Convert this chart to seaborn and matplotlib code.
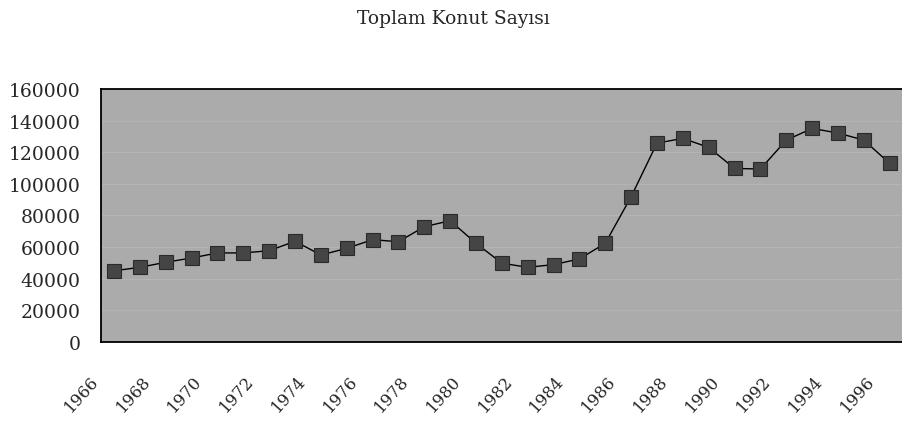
import matplotlib
matplotlib.use("Agg")
import matplotlib.pyplot as plt
import matplotlib.transforms as mtransforms
import seaborn as sns
import pandas as pd

# ── Data ──────────────────────────────────────────────────
years = list(range(1966, 1997))
konut = [45000, 47200, 50400, 53100, 56300, 56300, 57700, 63700, 55000, 59200,
         64700, 63400, 72900, 76700, 62400, 49800, 47200, 48900, 52500, 62400,
         91900, 125800, 128800, 123100, 109800, 109400, 127700, 135100, 132200,
         127700, 113000]
y_ticks = [0, 20000, 40000, 60000, 80000, 100000, 120000, 140000, 160000]
title = "Toplam Konut Sayısı"

df = pd.DataFrame({"idx": range(len(years)), "year": years, "konut": konut})

sns.set_theme(style="white")
plt.rcParams["font.family"] = ["DejaVu Serif"]

fig = plt.figure(figsize=(9.03, 4.27), dpi=100)
ax = fig.add_axes([0.112, 0.197, 0.889, 0.592])
ax.set_facecolor("#ababab")

# faint gridlines, barely visible in the original
for v in y_ticks[1:-1]:
    ax.axhline(v, color="#b6b6b6", lw=0.6, zorder=0)

sns.lineplot(data=df, x="idx", y="konut", ax=ax, color="black", lw=1.0,
             marker="s", markersize=9.5, markerfacecolor="#454545",
             markeredgecolor="#2a2a2a", markeredgewidth=0.8)

ax.set_xlim(-0.5, len(years) - 0.45)
ax.set_ylim(0, 160000)
ax.set_yticks(y_ticks)
ax.set_yticklabels([str(v) for v in y_ticks], fontsize=13.5)
ax.tick_params(axis="y", length=0, pad=15)

ax.set_xticks(df["idx"][::2])
ax.set_xticklabels([str(y) for y in years[::2]], rotation=48, ha="right",
                   fontsize=12, rotation_mode="anchor", va="center")
ax.tick_params(axis="x", length=0, pad=26)
shift = mtransforms.ScaledTranslation(-13 / 72, 0, fig.dpi_scale_trans)
for lab in ax.get_xticklabels():
    lab.set_transform(lab.get_transform() + shift)

ax.set_xlabel("")
ax.set_ylabel("")
for s in ax.spines.values():
    s.set_color("black")
    s.set_linewidth(1.3)
ax.spines["right"].set_visible(False)

fig.text(0.502, 0.955, title, ha="center", va="center", fontsize=13.5)

fig.savefig("out.png", dpi=100)
